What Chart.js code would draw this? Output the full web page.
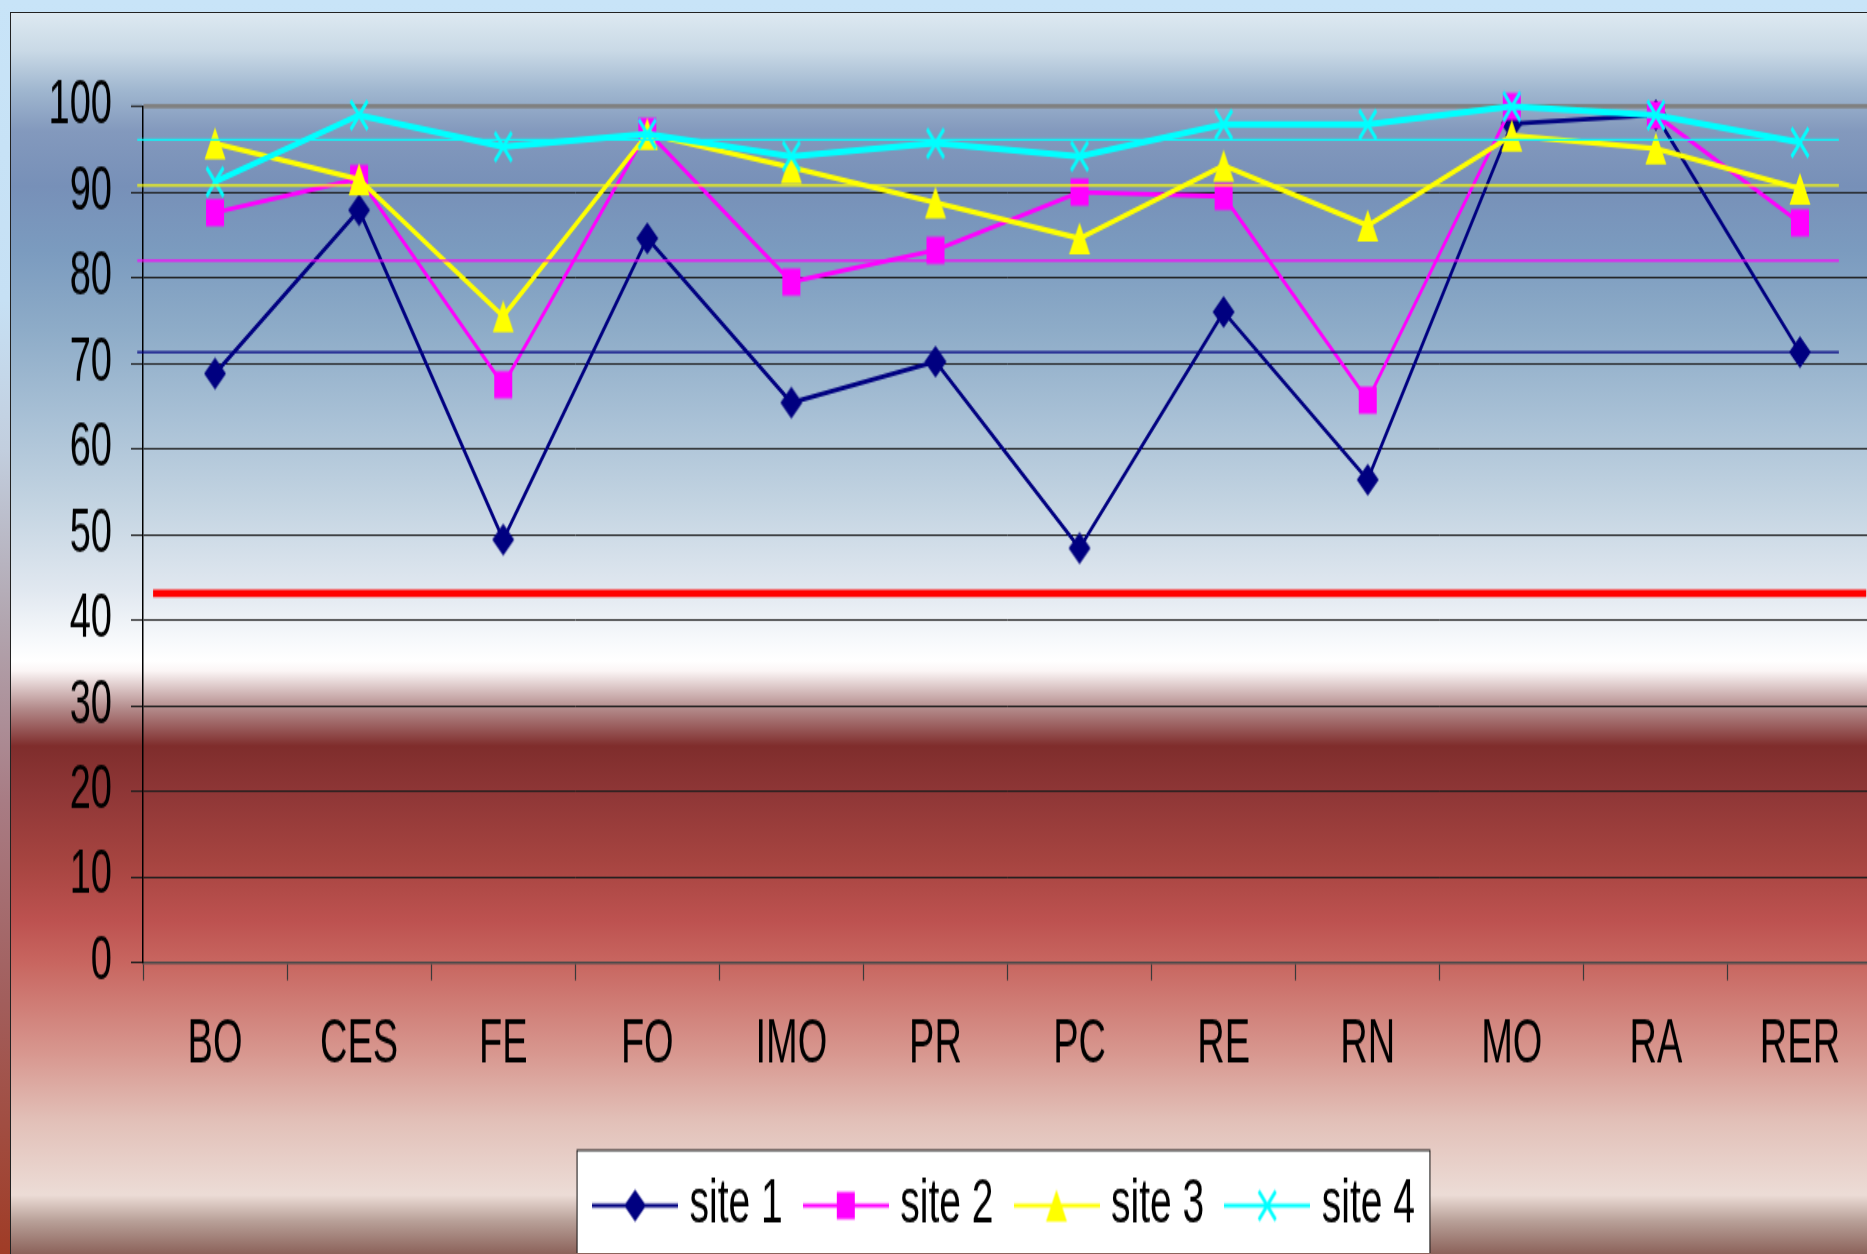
<!DOCTYPE html>
<html>
<head>
<meta charset="utf-8">
<script src="https://cdn.jsdelivr.net/npm/chart.js@4.4.1/dist/chart.umd.min.js"></script>
<style>
html, body { margin: 0; padding: 0; width: 1867px; height: 1254px; overflow: hidden; }
body {
  position: relative;
  background: linear-gradient(to bottom, #c8e4f8 0px, #c6e0f4 300px, #c2cede 450px, #b2a6b0 620px, #a87c84 800px, #a25e5c 1000px, #a03c26 1254px);
}
#bg {
  position: absolute; left: 10px; top: 12px; width: 1880px; height: 1260px;
  border-left: 1.5px solid #222; border-top: 1.5px solid #222;
  background: linear-gradient(to bottom,
    #dde9f1 0px, #c9d9e6 38px, #9fb6cf 78px, #8399bd 118px, #7790b8 173px,
    #7b9bbf 238px, #8eacc8 318px, #a9c1d6 408px, #c2d3e1 488px, #e1e8f0 578px,
    #f8fafc 630px, #ffffff 648px, #fbf5f5 658px, #b48c8c 695px, #7f2d2c 733px,
    #8e3636 778px, #a64440 848px, #bd5250 908px, #c86660 950px, #d89890 1042px,
    #e2c0b8 1108px, #ecdcd6 1182px, #b8a098 1208px, #8a6058 1242px, #805048 1260px);
}
#wrap { position: absolute; left: 0; top: 0; width: 1886px; height: 783px; transform: scale(1, 1.6); transform-origin: 0 0; }
</style>
</head>
<body>
<div id="bg"></div>
<div id="wrap"><canvas id="c" width="1886" height="783"></canvas></div>
<script>
// ---- data ----
const categories = ['BO', 'CES', 'FE', 'FO', 'IMO', 'PR', 'PC', 'RE', 'RN', 'MO', 'RA', 'RER'];
const seriesNames = ['site 1', 'site 2', 'site 3', 'site 4'];
const site1 = [68.8, 87.9, 49.4, 84.6, 65.4, 70.2, 48.4, 76.0, 56.4, 98.0, 99.0, 71.3];
const site2 = [87.6, 91.6, 67.5, 97.1, 79.5, 83.2, 90.0, 89.5, 65.7, 100, 99.0, 86.4];
const site3 = [95.7, 91.5, 75.5, 96.8, 92.9, 88.8, 84.6, 93.1, 86.1, 96.6, 95.1, 90.4];
const site4 = [91.2, 99.0, 95.3, 96.8, 94.2, 95.7, 94.2, 97.9, 97.9, 100, 99.0, 95.8];
// horizontal reference levels (site 4, site 3, site 2, site 1) and threshold
const refLevels = [96.1, 90.8, 82.0, 71.3];
const refSpan = [-0.04, 11.77];
const thresholdLevel = 43.1;
const thresholdSpan = [0.07, 11.96];
const yTicksMin = 0, yTicksMax = 100, yTicksStep = 10;

// ---- styles ----
const colors = ['#000080', '#ff00ff', '#ffff00', '#00ffff'];
const lineWidths = [2.8, 2.8, 3.3, 4];
const FONT = "'Liberation Sans', Arial, sans-serif";

function mk(w, h, fn) {
  const c = document.createElement('canvas');
  c.width = w; c.height = h;
  fn(c.getContext('2d'), w, h);
  return c;
}
function drawDiamond(g, cx, cy) {
  g.fillStyle = colors[0];
  g.beginPath(); g.moveTo(cx, cy - 10); g.lineTo(cx + 11, cy); g.lineTo(cx, cy + 10); g.lineTo(cx - 11, cy); g.closePath(); g.fill();
}
function drawSquare(g, cx, cy) {
  g.fillStyle = colors[1];
  g.fillRect(cx - 9, cy - 8.5, 18, 17);
}
function drawTriangle(g, cx, cy) {
  g.fillStyle = colors[2];
  g.beginPath(); g.moveTo(cx, cy - 10); g.lineTo(cx + 10.5, cy + 10); g.lineTo(cx - 10.5, cy + 10); g.closePath(); g.fill();
}
function drawX(g, cx, cy) {
  g.strokeStyle = colors[3]; g.lineWidth = 2.8; g.lineCap = 'butt';
  g.beginPath(); g.moveTo(cx - 8.5, cy - 9); g.lineTo(cx + 8.5, cy + 9);
  g.moveTo(cx + 8.5, cy - 9); g.lineTo(cx - 8.5, cy + 9); g.stroke();
}
const markerFns = [drawDiamond, drawSquare, drawTriangle, drawX];
const markers = markerFns.map(fn => mk(24, 22, (g, w, h) => fn(g, w / 2, h / 2)));
const legendIcons = markerFns.map((fn, i) => mk(86, 24, (g, w, h) => {
  g.strokeStyle = colors[i]; g.lineWidth = 2.6;
  g.beginPath(); g.moveTo(0, h / 2); g.lineTo(w, h / 2); g.stroke();
  fn(g, w / 2, h / 2);
}));

const seriesData = [site1, site2, site3, site4];
const datasets = seriesData.map((d, i) => ({
  type: 'line',
  label: seriesNames[i],
  data: d,
  xAxisID: 'x', yAxisID: 'y',
  borderColor: colors[i], backgroundColor: colors[i],
  borderWidth: lineWidths[i],
  pointStyle: markers[i], pointRadius: 10, pointHoverRadius: 10,
  tension: 0, fill: false, clip: false,
  order: 4 - i
}));
refLevels.forEach((lvl, k) => {
  datasets.push({
    type: 'line', label: 'ref' + k,
    data: [{ x: refSpan[0], y: lvl }, { x: refSpan[1], y: lvl }],
    xAxisID: 'xr', yAxisID: 'y',
    borderColor: colors[3 - k], borderWidth: 1.3, pointRadius: 0, clip: false, order: 0
  });
});
datasets.push({
  type: 'line', label: 'threshold',
  data: [{ x: thresholdSpan[0], y: thresholdLevel }, { x: thresholdSpan[1], y: thresholdLevel }],
  xAxisID: 'xr', yAxisID: 'y',
  borderColor: '#ff0000', borderWidth: 4.8, pointRadius: 0, clip: false, order: 0
});

const legendBox = {
  id: 'legendBox',
  beforeDraw(chart) {
    const lg = chart.legend;
    if (!lg || !lg.lineWidths) return;
    const lo = lg.options.labels;
    const pad = lo.padding;
    const start = (lg.left + pad + lg.right - lg.lineWidths[0]) / 2;
    const textCenter = lg.top + pad + lo.font.size / 2;
    const iconStart = start + lo.pointStyleWidth / 2 - legendIcons[0].width / 2;
    const left = iconStart - 15;
    const right = start + lg.lineWidths[0] - pad + 15;
    const top = textCenter - 34.5;
    const ctx = chart.ctx;
    ctx.save();
    ctx.fillStyle = '#ffffff';
    ctx.fillRect(left, top, right - left, chart.height - top + 20);
    ctx.strokeStyle = '#111';
    ctx.lineWidth = 1;
    ctx.strokeRect(left, top, right - left, chart.height - top + 20);
    ctx.restore();
  }
};

Chart.defaults.color = '#000';
Chart.defaults.font.family = FONT;

new Chart(document.getElementById('c'), {
  type: 'line',
  data: { labels: categories, datasets },
  options: {
    responsive: false,
    animation: false,
    events: [],
    layout: { padding: { top: 66.6, left: 0, right: 0, bottom: 0 } },
    plugins: {
      tooltip: { enabled: false },
      title: { display: false },
      legend: {
        position: 'bottom',
        fullSize: false,
        labels: {
          usePointStyle: true,
          pointStyleWidth: 70,
          padding: 28,
          color: '#000',
          font: { size: 39, family: FONT },
          filter: (item) => item.datasetIndex < 4,
          sort: (a, b) => a.datasetIndex - b.datasetIndex,
          generateLabels: (chart) => {
            const items = Chart.defaults.plugins.legend.labels.generateLabels(chart);
            items.forEach(it => { if (it.datasetIndex < 4) it.pointStyle = legendIcons[it.datasetIndex]; });
            return items;
          }
        }
      }
    },
    scales: {
      x: {
        type: 'category',
        offset: true,
        grid: { offset: true, drawOnChartArea: false, drawTicks: true, tickLength: 11.25, tickColor: '#3a3a3a', tickWidth: 1.2 },
        border: { color: '#4a4a4a', width: 1.6 },
        ticks: { font: { size: 38, family: FONT }, color: '#000', padding: 17.5, autoSkip: false, maxRotation: 0, minRotation: 0 },
        afterFit: (s) => { s.height = 104.5; }
      },
      xr: { type: 'linear', position: 'bottom', min: 0, max: 12, display: false },
      y: {
        type: 'linear',
        min: yTicksMin, max: yTicksMax,
        ticks: { stepSize: yTicksStep, font: { size: 38, family: FONT }, color: '#000', padding: 19 },
        grid: {
          color: (c) => c.tick && c.tick.value === 100 ? '#808080' : (c.tick && c.tick.value === 0 ? '#4a4a4a' : '#1e1e1e'),
          lineWidth: (c) => c.tick && c.tick.value === 100 ? 2.7 : 1,
          tickColor: '#1e1e1e', tickLength: 12, tickWidth: 1, drawTicks: true
        },
        border: { color: '#000', width: 1.5 },
        afterFit: (s) => { s.width = 143; }
      }
    }
  },
  plugins: [legendBox]
});
</script>
</body>
</html>
